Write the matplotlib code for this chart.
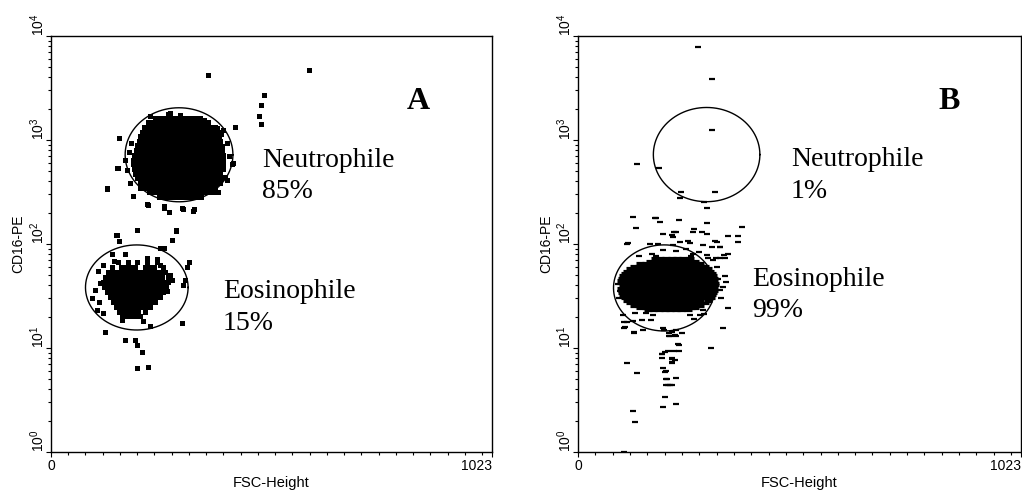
import numpy as np
import matplotlib
matplotlib.use('Agg')
import matplotlib.pyplot as plt
from matplotlib.ticker import MultipleLocator, LogLocator, NullFormatter

plt.rcParams['font.family'] = ['Liberation Sans', 'DejaVu Sans']

SERIF = ['Liberation Serif', 'DejaVu Serif']

# ---- panel A: neutrophile cloud, dense core (CD16 value per row, FSC channels in the row)
neut_a_rows_y = [282, 313, 347, 385, 427, 473, 525, 582, 646, 716, 794, 881, 977,
                 1084, 1202, 1334, 1479, 1641]
neut_a_rows_x = [
    [250, 261, 272, 283, 294, 305, 316, 327, 338, 349],
    [228, 239, 250, 261, 272, 283, 294, 305, 316, 327, 338, 349, 360, 372],
    [215, 226, 237, 248, 259, 270, 281, 292, 303, 314, 325, 336, 347, 358, 369, 381],
    [206, 217, 228, 239, 250, 261, 272, 283, 294, 305, 316, 327, 338, 349, 360, 371, 382, 392],
    [200, 211, 222, 233, 244, 255, 266, 277, 288, 299, 310, 321, 332, 343, 354, 365, 376, 387, 395],
    [195, 206, 217, 228, 239, 250, 261, 272, 283, 294, 305, 316, 327, 338, 349, 360, 371, 382, 393],
    [192, 203, 214, 225, 236, 247, 258, 269, 280, 291, 302, 313, 324, 335, 346, 357, 368, 379, 390, 398],
    [190, 201, 212, 223, 234, 245, 256, 267, 278, 289, 300, 311, 322, 333, 344, 355, 366, 377, 388, 399],
    [190, 201, 212, 223, 234, 245, 256, 267, 278, 289, 300, 311, 322, 333, 344, 355, 366, 377, 388, 399],
    [193, 204, 215, 226, 237, 248, 259, 270, 281, 292, 303, 314, 325, 336, 347, 358, 369, 380, 391, 398],
    [197, 208, 219, 230, 241, 252, 263, 274, 285, 296, 307, 318, 329, 340, 351, 362, 373, 384, 397],
    [200, 211, 222, 233, 244, 255, 266, 277, 288, 299, 310, 321, 332, 343, 354, 365, 376, 387, 396],
    [204, 215, 226, 237, 248, 259, 270, 281, 292, 303, 314, 325, 336, 347, 358, 369, 380, 392],
    [206, 217, 228, 239, 250, 261, 272, 283, 294, 305, 316, 327, 338, 349, 360, 371, 382, 390],
    [210, 221, 232, 243, 254, 265, 276, 287, 298, 309, 320, 331, 342, 353, 364, 375, 387],
    [215, 226, 237, 248, 259, 270, 281, 292, 303, 314, 325, 336, 347, 358, 369, 380],
    [225, 236, 247, 258, 269, 280, 291, 302, 313, 324, 335, 346, 357, 365],
    [242, 253, 264, 275, 286, 297, 308, 319, 330, 345],
]
# scattered events around / outside the neutrophile gate
neut_a_x = [364, 276, 272, 158, 427, 384, 245, 338, 172, 154, 156, 131, 129, 191, 223, 224,
            262, 261, 274, 303, 306, 332, 329, 404, 408, 423, 421, 408, 199, 199, 176, 388,
            377, 206, 183, 487, 483, 487, 493, 599, 395, 400, 180, 186, 412, 230, 300, 356]
neut_a_y = [4217, 1807, 1766, 1038, 1343, 1300, 1620, 1620, 642, 535, 540, 348, 340, 289, 240, 237,
            233, 221, 204, 224, 219, 217, 209, 444, 412, 597, 589, 929, 890, 875, 516, 317,
            316, 343, 389, 1425, 1700, 2172, 2710, 4710, 1150, 1250, 760, 930, 700, 1720, 1730, 1560]

# ---- panel A: eosinophile cloud
eos_a_rows_y = [67.6, 60.3, 53.7, 47.9, 43.2, 38.5, 34.7, 30.9, 27.5, 24.8, 22.2, 20.4]
eos_a_rows_x = [
    [155, 178, 200, 222, 245],
    [141, 163, 174, 185, 196, 218, 229, 240, 260],
    [132, 143, 154, 165, 176, 187, 198, 209, 220, 231, 242, 253, 264],
    [125, 136, 147, 158, 169, 180, 191, 202, 213, 224, 235, 246, 257, 271],
    [121, 132, 143, 154, 165, 176, 187, 198, 209, 220, 231, 242, 253, 264, 271],
    [123, 134, 145, 156, 167, 178, 189, 200, 211, 222, 233, 244, 255, 267],
    [130, 141, 152, 163, 174, 185, 196, 207, 218, 229, 240, 251, 260],
    [137, 148, 159, 170, 181, 192, 203, 214, 225, 236, 247, 253],
    [144, 155, 166, 177, 188, 199, 210, 221, 232, 241],
    [151, 162, 173, 184, 195, 206, 217, 230],
    [158, 169, 180, 191, 202, 218],
    [165, 176, 187, 198, 206],
]
eos_a_x = [152, 158, 199, 290, 281, 253, 262, 319, 315, 311, 307, 303, 125, 172, 195, 199,
           210, 199, 224, 213, 230, 165, 121, 106, 102, 112, 114, 129, 121, 145, 141, 172,
           222, 253, 276, 268, 230, 289, 150, 255, 95, 110, 280, 245, 260]
eos_a_y = [122, 108, 135, 135, 109, 91, 91, 67, 60, 45, 40, 17.5, 14.4, 11.9, 11.9, 10.7,
           9.2, 6.4, 6.6, 18.2, 16.3, 18.6, 21.6, 23, 36, 27.5, 42, 48.5, 63, 68, 81, 81,
           74, 63, 50, 35, 25, 133, 122, 91, 30, 55, 45, 72, 55]

# ---- panel B: eosinophile cloud, dense core
eos_b_rows_y = [73.3, 69.3, 65.6, 62.1, 58.8, 55.6, 52.6, 49.8, 47.1, 44.6, 42.2,
                39.9, 37.8, 35.7, 33.8, 32.0, 30.3, 28.6, 27.1, 25.6, 24.3, 23.0]
eos_b_rows_x = [
    [177, 190, 203, 216, 229, 242, 258],
    [166, 179, 192, 205, 218, 231, 244, 257, 270],
    [143, 156, 169, 182, 195, 208, 221, 234, 247, 260, 273, 281],
    [129, 142, 155, 168, 181, 194, 207, 220, 233, 246, 259, 272, 285, 293],
    [120, 133, 146, 159, 172, 185, 198, 211, 224, 237, 250, 263, 276, 289, 300],
    [113, 126, 139, 152, 165, 178, 191, 204, 217, 230, 243, 256, 269, 282, 295, 304],
    [108, 121, 134, 147, 160, 173, 186, 199, 212, 225, 238, 251, 264, 277, 290, 303, 309],
    [104, 117, 130, 143, 156, 169, 182, 195, 208, 221, 234, 247, 260, 273, 286, 299, 311],
    [101, 114, 127, 140, 153, 166, 179, 192, 205, 218, 231, 244, 257, 270, 283, 296, 309, 313],
    [99, 112, 125, 138, 151, 164, 177, 190, 203, 216, 229, 242, 255, 268, 281, 294, 307, 313],
    [99, 112, 125, 138, 151, 164, 177, 190, 203, 216, 229, 242, 255, 268, 281, 294, 307, 316],
    [104, 117, 130, 143, 156, 169, 182, 195, 208, 221, 234, 247, 260, 273, 286, 299, 312, 316],
    [99, 112, 125, 138, 151, 164, 177, 190, 203, 216, 229, 242, 255, 268, 281, 294, 307, 313],
    [101, 114, 127, 140, 153, 166, 179, 192, 205, 218, 231, 244, 257, 270, 283, 296, 309, 313],
    [101, 114, 127, 140, 153, 166, 179, 192, 205, 218, 231, 244, 257, 270, 283, 296, 311],
    [104, 117, 130, 143, 156, 169, 182, 195, 208, 221, 234, 247, 260, 273, 286, 299, 309],
    [108, 121, 134, 147, 160, 173, 186, 199, 212, 225, 238, 251, 264, 277, 290, 306],
    [113, 126, 139, 152, 165, 178, 191, 204, 217, 230, 243, 256, 269, 282, 300],
    [120, 133, 146, 159, 172, 185, 198, 211, 224, 237, 250, 263, 276, 293],
    [129, 142, 155, 168, 181, 194, 207, 220, 233, 246, 259, 272, 281],
    [143, 156, 169, 182, 195, 208, 221, 234, 247, 260, 270],
    [161, 174, 187, 200, 213, 226, 239, 253],
]
eos_b_x = [276, 309, 309, 136, 186, 239, 235, 316, 291, 299, 299, 126, 178, 181, 233, 134,
           267, 287, 197, 227, 220, 253, 322, 346, 370, 370, 379, 114, 309, 328, 279, 337,
           318, 189, 216, 222, 266, 297, 116, 166, 184, 220, 235, 258, 289, 316, 327, 346,
           339, 197, 227, 250, 266, 170, 297, 312, 327, 339, 342, 335, 327, 346, 335, 306,
           290, 267, 104, 112, 108, 147, 173, 197, 216, 223, 212, 258, 281, 247, 289, 131,
           158, 107, 107, 126, 130, 149, 168, 199, 210, 226, 210, 226, 232, 207, 222, 233,
           195, 195, 218, 218, 113, 197, 200, 136, 205, 227, 203, 213, 201, 226, 197, 126,
           132, 107, 129, 241, 233, 193, 201, 216, 223, 216, 204, 204, 208, 216,
           92, 96, 94, 320, 324, 330, 140, 180, 260, 300]
eos_b_y = [7800, 3837, 1248, 588, 535, 318, 279, 314, 255, 220, 158, 181, 179, 176, 172, 141,
           138, 130, 124, 129, 116, 108, 105, 119, 119, 105, 147, 99, 93, 93, 84, 78,
           73, 163, 122, 129, 129, 126, 102, 100, 100, 98, 105, 102, 98, 107, 94, 81,
           73, 87, 86, 89, 81, 81, 78, 70, 73, 49, 43, 39, 36, 24, 15.5, 9.9,
           21, 19, 20.7, 17.9, 16, 18.6, 20.7, 15.5, 14.4, 13.3, 12.9, 20.7, 20.7, 23, 23, 21.5,
           21.5, 17.9, 15.7, 18.2, 14.4, 14.9, 18.6, 14.9, 13.8, 14.9, 12.9, 12.9, 11, 9.4, 9.4, 9.4,
           8.75, 8, 7.8, 7.3, 7.1, 6.4, 5.9, 5.7, 5.0, 5.2, 4.4, 4.4, 3.36, 2.9, 2.7, 2.5,
           1.93, 1.0, 14.0, 13.8, 10.8, 8.7, 9.2, 8.0, 7.6, 7.1, 6.0, 5.0, 4.4, 4.4,
           41, 35, 30, 60, 46, 30, 77, 76, 76, 74]

# gates: centre channel, half width (channels), centre CD16, half height (decades)
gate_neut_a = (297, 125, 721, 0.452)
gate_eos_a = (199, 119, 38.2, 0.409)
gate_neut_b = (297, 123, 724, 0.453)
gate_eos_b = (199, 117, 37.8, 0.414)


def flatten(rows_y, rows_x):
    xs, ys = [], []
    for y, row in zip(rows_y, rows_x):
        xs += row
        ys += [y] * len(row)
    return xs, ys


def draw_gate(ax, gate):
    cx, half_x, cy, half_dec = gate
    t = np.linspace(0, 2 * np.pi, 300)
    ax.plot(cx + half_x * np.cos(t), cy * 10 ** (half_dec * np.sin(t)),
            color='black', lw=1.0)


def style_axes(ax, ylabel_x):
    ax.set_xlim(0, 1023)
    ax.set_ylim(1, 10000)
    ax.set_yscale('log')
    ax.set_xticks([0, 1023])
    ax.set_xticklabels(['0', '1023'])
    ax.get_xticklabels()[1].set_ha('right')
    ax.xaxis.set_minor_locator(MultipleLocator(40))
    ax.yaxis.set_major_locator(LogLocator(base=10, numticks=10))
    ax.yaxis.set_minor_locator(LogLocator(base=10, subs=np.arange(2, 10), numticks=10))
    ax.yaxis.set_minor_formatter(NullFormatter())
    ax.tick_params(which='major', direction='out', length=3.4, width=0.8, labelsize=10)
    ax.tick_params(which='minor', direction='out', length=2.2, width=0.8)
    ax.tick_params(axis='x', pad=2)
    ax.tick_params(axis='y', pad=-0.5)
    for lbl in ax.get_yticklabels():
        lbl.set_rotation(90)
        lbl.set_va('bottom')
    for sp in ax.spines.values():
        sp.set_linewidth(1.0)
    ax.set_xlabel('FSC-Height', fontsize=10.5)
    ax.set_ylabel('CD16-PE', fontsize=10)
    ax.xaxis.set_label_coords(0.5, -0.058)
    ax.yaxis.set_label_coords(ylabel_x, 0.5)


W, H = 1022, 491
fig = plt.figure(figsize=(W / 100, H / 100), dpi=100)
ax_a = fig.add_axes([51 / W, 1 - 452 / H, 441 / W, 416 / H])
ax_b = fig.add_axes([578 / W, 1 - 452 / H, 443 / W, 416 / H])

# panel A: square dots
x, y = flatten(neut_a_rows_y, neut_a_rows_x)
ax_a.plot(x + neut_a_x, y + neut_a_y, 's', color='black', ms=3.6, mew=0)
x, y = flatten(eos_a_rows_y, eos_a_rows_x)
ax_a.plot(x + eos_a_x, y + eos_a_y, 's', color='black', ms=3.6, mew=0)
draw_gate(ax_a, gate_neut_a)
draw_gate(ax_a, gate_eos_a)
style_axes(ax_a, -0.059)

# panel B: dash dots (the dense core rows drawn a bit bigger so they merge)
x, y = flatten(eos_b_rows_y, eos_b_rows_x)
ax_b.plot(x, y, '_', color='black', ms=5.2, mew=2.3)
ax_b.plot(eos_b_x, eos_b_y, '_', color='black', ms=4.3, mew=1.6)
draw_gate(ax_b, gate_neut_b)
draw_gate(ax_b, gate_eos_b)
style_axes(ax_b, -0.056)


def label(px, py, s, **kw):
    fig.text(px / W, 1 - py / H, s, family=SERIF, va='baseline', ha='left', **kw)


label(407, 109, 'A', fontsize=23, fontweight='bold')
label(262, 167, 'Neutrophile', fontsize=20)
label(262, 198, '85%', fontsize=20)
label(223, 298, 'Eosinophile', fontsize=20)
label(223, 330, '15%', fontsize=20)

label(938, 109, 'B', fontsize=23, fontweight='bold')
label(791, 166, 'Neutrophile', fontsize=20)
label(791, 198, '1%', fontsize=20)
label(752, 286, 'Eosinophile', fontsize=20)
label(752, 317, '99%', fontsize=20)

plt.savefig('out.png', dpi=100)
